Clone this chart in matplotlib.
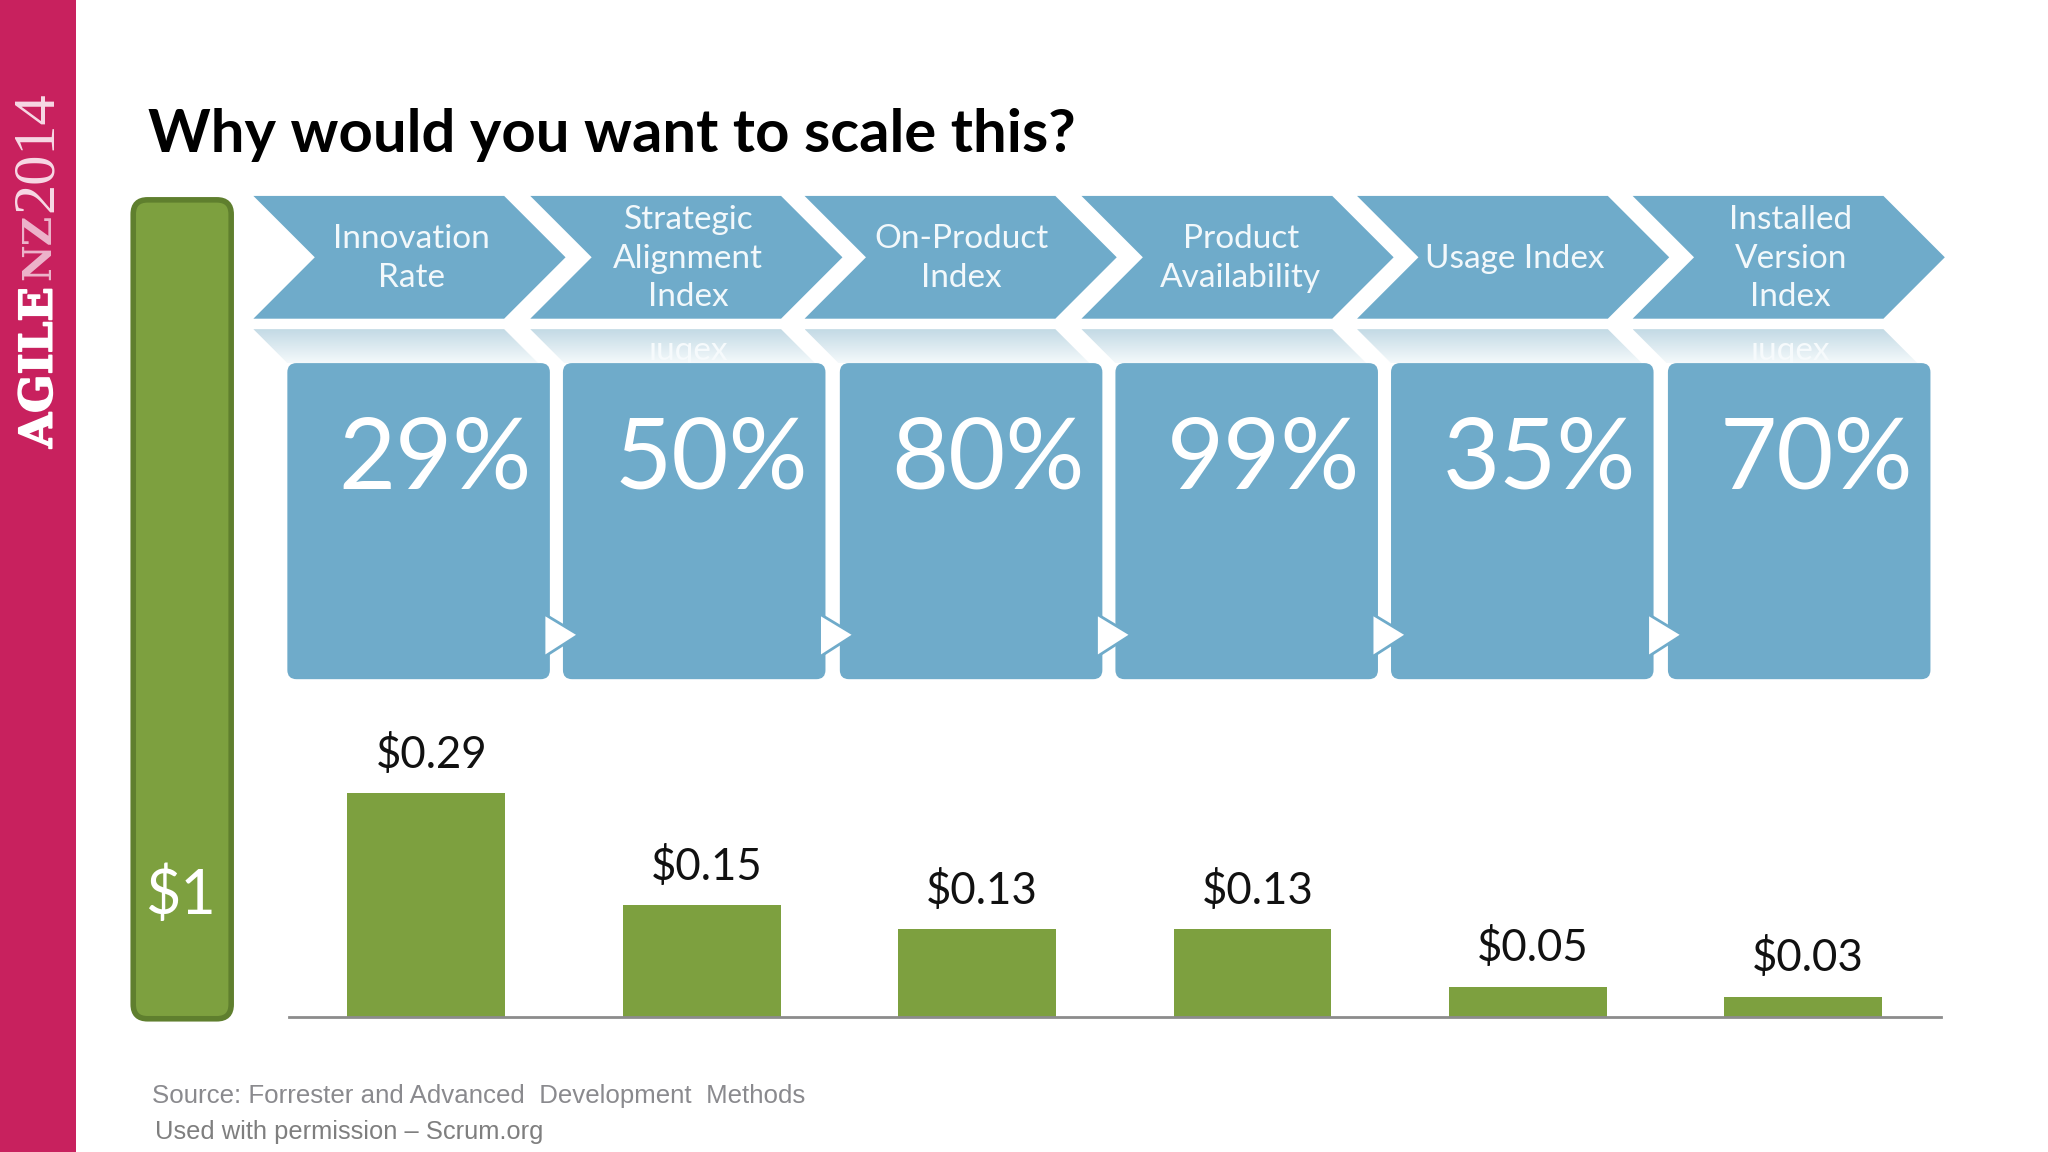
import numpy as np
import matplotlib
matplotlib.use("Agg")
import matplotlib.pyplot as plt
import matplotlib.patheffects as pe
from matplotlib.patches import Polygon, FancyBboxPatch, Rectangle
from matplotlib.colors import LinearSegmentedColormap

# ---------- data ----------
stages = ["Innovation\nRate", "Strategic\nAlignment\nIndex", "On-Product\nIndex",
          "Product\nAvailability", "Usage Index", "Installed\nVersion\nIndex"]
percents = ["29%", "50%", "80%", "99%", "35%", "70%"]
bar_values = [0.29, 0.145, 0.114, 0.114, 0.039, 0.026]
bar_labels = ["$0.29", "$0.15", "$0.13", "$0.13", "$0.05", "$0.03"]
total_label = "$1"
title = "Why would you want to scale this?"
source_lines = ["Source: Forrester and Advanced  Development  Methods",
                "Used with permission \u2013 Scrum.org"]

# ---------- style ----------
W, H = 1568, 882
BLUE = "#6FABCA"
GREEN = "#7DA03F"
GREEN_DK = "#5F7F2E"
MAGENTA = "#C8215E"
FONT = "Lato"

fig = plt.figure(figsize=(20.48, 11.52), dpi=100, facecolor="white")
ax = fig.add_axes([0, 0, 1, 1])
ax.set_xlim(0, W)
ax.set_ylim(H, 0)
ax.axis("off")

# sidebar
ax.add_patch(Rectangle((0, 0), 58, H, fc=MAGENTA, ec="none"))
ax.text(30, 343, "AGILE", rotation=90, ha="center", va="bottom", color="white",
        family="DejaVu Serif", weight="bold", fontsize=32.5,
        path_effects=[pe.withStroke(linewidth=1.2, foreground="white")])
ax.text(30, 214, "NZ", rotation=90, ha="center", va="bottom", color="#EDB4CB",
        family="DejaVu Serif", weight="bold", fontsize=29)
ax.text(29, 162, "2014", rotation=90, ha="center", va="bottom", color="#F7D9E5",
        family="Liberation Serif", fontsize=43.5)

# title
ax.text(113, 103, title, ha="left", va="center", family=FONT, weight="bold",
        fontsize=43, color="black")

# left total bar
ax.add_patch(FancyBboxPatch((102, 153), 75, 627, boxstyle="round,pad=0,rounding_size=11",
                            fc=GREEN, ec=GREEN_DK, lw=4, zorder=2))
ax.text(138.5, 686, total_label, ha="center", va="center", color="white",
        family=FONT, fontsize=44, zorder=3)

# chevrons, reflections, boxes
chev_x = [194, 406, 616, 828, 1039, 1250]
text_x = [315, 527, 736, 950, 1160, 1371]
box_x = [220, 431, 643, 854, 1065, 1277]
fade = LinearSegmentedColormap.from_list("fade", ["#C3DAE5", "#F4F9FB"])
grad = np.linspace(0, 1, 64).reshape(-1, 1)
for i, (cx, tx, bx) in enumerate(zip(chev_x, text_x, box_x)):
    ax.add_patch(Polygon([(cx, 150), (cx + 192, 150), (cx + 239, 197), (cx + 192, 244),
                          (cx, 244), (cx + 47, 197)], fc=BLUE, ec="none", zorder=2))
    ax.text(tx, 198, stages[i], ha="center", va="center", color="#F2F8FB", family=FONT,
            fontsize=24, linespacing=1.36, zorder=3)
    # reflection
    im = ax.imshow(grad, cmap=fade, extent=(cx, cx + 222, 278, 252), aspect="auto", zorder=1)
    clip = Polygon([(cx, 252), (cx + 192, 252), (cx + 218, 278), (cx + 26, 278)],
                   transform=ax.transData, fc="none", ec="none")
    ax.add_patch(clip)
    im.set_clip_path(clip)
    if stages[i].endswith("Index") and stages[i].count("\n") == 2:
        ax.text(tx, 276, "\u0131uqex", ha="center", va="baseline", color="#F6FAFC",
                family=[FONT, "DejaVu Sans"], fontsize=24, zorder=1.5)
    # value box
    ax.add_patch(FancyBboxPatch((bx, 278), 201, 242, boxstyle="round,pad=0,rounding_size=7",
                                fc=BLUE, ec="none", zorder=2))
    ax.text(bx + 187.5, 374, percents[i], ha="right", va="baseline", color="white",
            family=FONT, fontsize=71, zorder=3)
    if i < 5:
        ax.add_patch(Polygon([(bx + 196.5, 470), (bx + 223, 486), (bx + 196.5, 503)],
                             fc="white", ec=BLUE, lw=2, joinstyle="miter", zorder=4))
ax.set_xlim(0, W)
ax.set_ylim(H, 0)

# source
ax.text(116, 839.5, source_lines[0], ha="left", va="center", color="#8A8A8E",
        family="Liberation Sans", fontsize=18.6)
ax.text(119, 867, source_lines[1], ha="left", va="center", color="#7F7F7F",
        family="Liberation Sans", fontsize=18.4)

# bars
base_y = 778.5
px_per_unit = 590
ymax = 0.4
bax = fig.add_axes([221 / W, (H - base_y) / H, (1486 - 221) / W, ymax * px_per_unit / H])
bax.patch.set_alpha(0)
xs = np.arange(len(bar_values))
bars = bax.bar(xs, bar_values, width=0.573, color=GREEN)
bax.set_xlim(-0.5, 5.5)
bax.set_ylim(0, ymax)
bax.set_yticks([])
bax.set_xticks([])
for s in ["top", "left", "right"]:
    bax.spines[s].set_visible(False)
bax.spines["bottom"].set_color("#8C8C8C")
bax.spines["bottom"].set_linewidth(2)
for x, v, lab in zip(xs, bar_values, bar_labels):
    bax.annotate(lab, (x, v), xytext=(3.5, 12.5), textcoords="offset points", ha="center",
                 va="bottom", family=FONT, fontsize=31.5, color="#111111", parse_math=False)
fig.savefig("out.png", dpi=100)
